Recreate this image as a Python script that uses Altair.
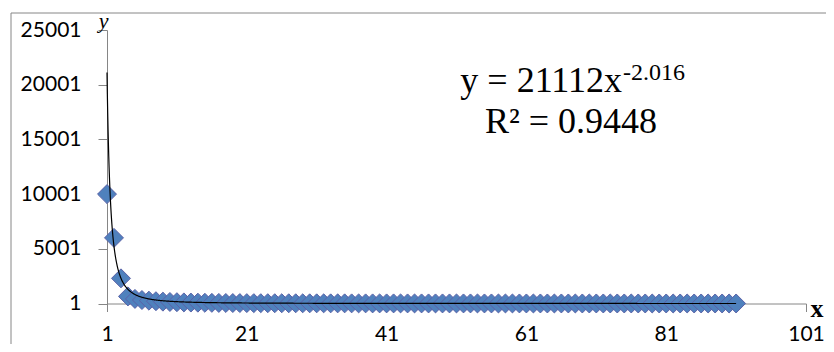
import altair as alt
import pandas as pd

# ---- data ----
x_vals = list(range(1, 92))
y_vals = [
    10000, 6000, 2300, 650, 420, 320, 260, 210, 170, 140,
    120, 100, 88, 77, 68, 60, 54, 48, 44, 40,
    36, 33, 30, 28, 26, 24, 22, 21, 19, 18,
    17, 16, 15, 14, 14, 13, 12, 12, 11, 11,
    10, 10, 10, 9, 9, 9, 8, 8, 8, 8,
    7, 7, 7, 7, 6, 6, 6, 6, 6, 6,
    5, 5, 5, 5, 5, 5, 5, 5, 4, 4,
    4, 4, 4, 4, 4, 4, 4, 4, 3, 3,
    3, 3, 3, 3, 3, 3, 3, 3, 3, 3, 3,
]
x_ticks = [1, 21, 41, 61, 81, 101]
y_ticks = [1, 5001, 10001, 15001, 20001, 25001]
trend_a = 21112
trend_b = -2.016
trend_start, trend_end = 1, 91
eq_main = "y = 21112x"
eq_exp = "-2.016"
eq_r2 = "R\u00b2 = 0.9448"

df = pd.DataFrame({"x": x_vals, "y": y_vals})

W, H = 699, 273.5
GRAY = "#868686"

common = dict(
    grid=False, domainColor=GRAY, tickColor=GRAY, domainWidth=1, tickWidth=1,
    labelFont="Lato", labelFontSize=21, labelColor="#000000",
    labelFlush=False, labelOverlap=False, format="d",
)

x_enc = alt.X(
    "x:Q",
    scale=alt.Scale(domain=[1, 101], nice=False, zero=False),
    axis=alt.Axis(
        values=x_ticks, tickSize=8, labelPadding=12,
        title="x", titleFont="Liberation Serif", titleFontWeight="bold",
        titleFontSize=26, titleColor="#000000", titleAngle=0,
        titleX=703, titleY=13, titleAlign="left", titleBaseline="alphabetic",
        **common,
    ),
)
y_enc = alt.Y(
    "y:Q",
    scale=alt.Scale(domain=[1, 25001], nice=False, zero=False),
    axis=alt.Axis(
        values=y_ticks, tickSize=9, labelPadding=17,
        title="y", titleFont="Liberation Serif", titleFontStyle="italic",
        titleFontWeight="normal", titleFontSize=22, titleColor="#000000",
        titleAngle=0, titleX=-4, titleY=-3, titleAlign="center",
        titleBaseline="alphabetic",
        **common,
    ),
)

one = pd.DataFrame({"k": [0]})

frame = alt.Chart(one).mark_rect(
    fillOpacity=0, stroke=GRAY, strokeWidth=1
).encode(
    x=alt.value(-96), x2=alt.value(760), y=alt.value(-17), y2=alt.value(360)
)

points = alt.Chart(df).mark_point(
    shape="diamond", filled=True, size=360, fill="#4F81BD",
    stroke="#5B62A8", strokeWidth=1, opacity=1,
).encode(x=x_enc, y=y_enc)

trend = alt.Chart(alt.sequence(trend_start, trend_end + 0.001, 0.05, as_="x")).transform_calculate(
    y=f"{trend_a} * pow(datum.x, {trend_b})"
).mark_line(color="#000000", strokeWidth=1.2, clip=False).encode(x=x_enc, y=y_enc)

t_main = alt.Chart(pd.DataFrame({"t": [eq_main]})).mark_text(
    font="Liberation Serif", fontSize=36, align="right", baseline="alphabetic", color="#000000"
).encode(text="t:N", x=alt.value(515), y=alt.value(62))

t_exp = alt.Chart(pd.DataFrame({"t": [eq_exp]})).mark_text(
    font="Liberation Serif", fontSize=24, align="left", baseline="alphabetic", color="#000000"
).encode(text="t:N", x=alt.value(516), y=alt.value(50))

t_r2 = alt.Chart(pd.DataFrame({"t": [eq_r2]})).mark_text(
    font="Liberation Serif", fontSize=36, align="center", baseline="alphabetic", color="#000000"
).encode(text="t:N", x=alt.value(464), y=alt.value(103))

chart = alt.layer(frame, points, trend, t_main, t_exp, t_r2).properties(
    width=W, height=H,
    padding={"left": 99, "top": 22, "right": 20, "bottom": 40.5},
    autosize=alt.AutoSizeParams(type="none"),
    background="#ffffff",
).configure_view(stroke=None)

chart.save("out.html", embed_options={"renderer": "svg", "actions": False})
